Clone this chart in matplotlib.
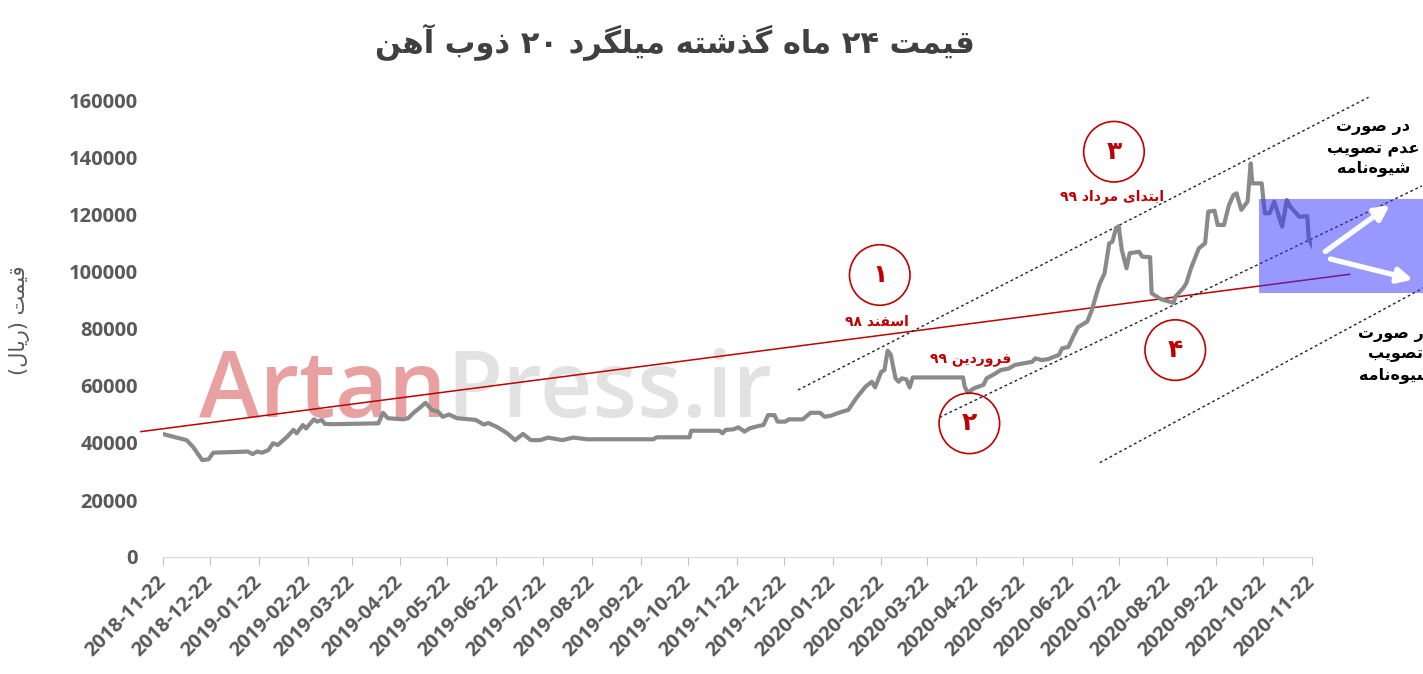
import re
import pandas as pd
import matplotlib
matplotlib.use('Agg')
import matplotlib.pyplot as plt
import matplotlib.dates as mdates
from matplotlib.patches import Rectangle

plt.rcParams['font.family'] = ['Open Sans', 'DejaVu Sans']

# --- data (days after 2018-11-22, price in rial) ---
start = pd.Timestamp('2018-11-22')
day_offset = [1, 13, 15, 19, 25, 29, 32, 54, 57, 60, 63, 67, 70, 73, 79, 83, 85, 89, 91, 96,
              98, 101, 103, 108, 137, 140, 143, 153, 156, 159, 163, 167, 171, 175, 178, 182, 187, 199, 204, 207,
              213, 219, 224, 229, 234, 240, 245, 254, 261, 270, 312, 314, 335, 336, 354, 356, 358, 363, 366, 370,
              373, 379, 382, 385, 389, 391, 396, 398, 407, 412, 418, 421, 425, 432, 436, 441, 447, 451, 453, 457,
              459, 461, 463, 466, 468, 470, 473, 475, 477, 509, 510, 512, 516, 522, 524, 529, 533, 538, 542, 553,
              555, 559, 563, 567, 570, 572, 576, 579, 582, 588, 591, 594, 596, 599, 602, 604, 606, 608, 610, 613,
              615, 621, 623, 628, 629, 635, 643, 644, 649, 651, 654, 659, 663, 665, 669, 671, 675, 678, 681, 683,
              686, 690, 692, 693, 699, 701, 704, 707, 710, 712, 715, 717, 720, 723, 728, 729, 731, 733]
price = [43000, 41300, 41000, 38700, 34000, 34300, 36600, 37000, 36100, 37000, 36600, 37500, 39900, 39300, 42200, 44600, 43400, 46300, 45100, 48300,
         47500, 48100, 46700, 46600, 46900, 50600, 48700, 48300, 48700, 50400, 52200, 54100, 51600, 51000, 49200, 50000, 48700, 48100, 46500, 47000,
         45500, 43400, 41000, 43200, 41000, 41000, 41900, 41000, 41900, 41300, 41300, 42000, 42000, 44300, 44300, 43400, 44600, 44800, 45500, 44000,
         45100, 46000, 46300, 49800, 49800, 47500, 47500, 48300, 48300, 50600, 50600, 49200, 49600, 51000, 51600, 55700, 59800, 61500, 59500, 65000,
         65600, 72400, 71000, 62700, 61500, 62700, 62300, 59500, 63000, 63000, 59800, 57700, 59200, 60400, 62700, 64200, 65600, 66100, 67400, 68500,
         69700, 69100, 69400, 70300, 70900, 73200, 73700, 77300, 80600, 82600, 86700, 92500, 96000, 99500, 110100, 110600, 114700, 116100, 107700, 101300,
         106600, 107100, 105400, 105200, 92500, 90400, 89200, 91300, 94300, 96000, 101300, 108300, 110100, 121200, 121500, 116500, 116500, 123200, 127000, 127600,
         121800, 124700, 138100, 131100, 131100, 120600, 120600, 124700, 119400, 115900, 125300, 123000, 121200, 119400, 119600, 111200, 109500, 107100]

# red trend line and dotted channel lines (endpoints, days / rial)
trend_days = [-14, 755]
trend_vals = [44000, 99200]
channel_days = [[404, 767], [494, 801], [596, 803]]
channel_vals = [[58600, 161300], [49000, 130200], [33100, 94800]]

# blue scenario box and arrows
box_days = [697, 812]
box_vals = [92500, 125500]
arrow_up = [(738, 106600), (782, 124100)]
arrow_down = [(741, 104800), (797, 97100)]

# numbered circles and their labels
circle_txt = ['۱', '۲', '۳', '۴']
circle_days = [456, 513, 605, 644]
circle_vals = [98950, 46900, 142200, 72600]
note_txt = ['اسفند ۹۸', 'فروردین ۹۹', 'ابتدای مرداد ۹۹']
note_days = [454, 514, 604]
note_vals = [82500, 69500, 126300]

title = 'قیمت ۲۴ ماه گذشته میلگرد ۲۰ ذوب آهن'
ylabel = 'قیمت (ریال)'
scen_no = 'در صورت\nعدم تصویب\nشیوه\u200cنامه'
scen_yes = 'در صورت\nتصویب\nشیوه\u200cنامه'

# --- minimal Persian shaping (matplotlib has no bidi / joining) ---
FORMS = {
    'ا': ('\uFE8D', '\uFE8E', None, None),
    'آ': ('\uFE81', '\uFE82', None, None),
    'ب': ('\uFE8F', '\uFE90', '\uFE91', '\uFE92'),
    'ت': ('\uFE95', '\uFE96', '\uFE97', '\uFE98'),
    'د': ('\uFEA9', '\uFEAA', None, None),
    'ذ': ('\uFEAB', '\uFEAC', None, None),
    'ر': ('\uFEAD', '\uFEAE', None, None),
    'س': ('\uFEB1', '\uFEB2', '\uFEB3', '\uFEB4'),
    'ش': ('\uFEB5', '\uFEB6', '\uFEB7', '\uFEB8'),
    'ص': ('\uFEB9', '\uFEBA', '\uFEBB', '\uFEBC'),
    'ع': ('\uFEC9', '\uFECA', '\uFECB', '\uFECC'),
    'ف': ('\uFED1', '\uFED2', '\uFED3', '\uFED4'),
    'ق': ('\uFED5', '\uFED6', '\uFED7', '\uFED8'),
    'ل': ('\uFEDD', '\uFEDE', '\uFEDF', '\uFEE0'),
    'م': ('\uFEE1', '\uFEE2', '\uFEE3', '\uFEE4'),
    'ن': ('\uFEE5', '\uFEE6', '\uFEE7', '\uFEE8'),
    'ه': ('\uFEE9', '\uFEEA', '\uFEEB', '\uFEEC'),
    'و': ('\uFEED', '\uFEEE', None, None),
    'ی': ('\uFBFC', '\uFBFD', '\uFBFE', '\uFBFF'),
    'گ': ('\uFB92', '\uFB93', '\uFB94', '\uFB95'),
}


def shape_line(s):
    out = []
    for i, ch in enumerate(s):
        if ch not in FORMS:
            if ch != '\u200c':
                out.append(ch)
            continue
        iso, fin, ini, med = FORMS[ch]
        prev = s[i - 1] if i > 0 else ''
        nxt = s[i + 1] if i + 1 < len(s) else ''
        jp = prev in FORMS and FORMS[prev][2] is not None
        jn = ini is not None and nxt in FORMS
        if jp and jn:
            out.append(med)
        elif jp:
            out.append(fin)
        elif jn:
            out.append(ini)
        else:
            out.append(iso)
    parts = re.findall(r'[0-9\u06F0-\u06F9]+|[^0-9\u06F0-\u06F9]', ''.join(out))
    return ''.join(parts[::-1]).translate(str.maketrans('()', ')('))


def fa(s):
    return '\n'.join(shape_line(l) for l in s.split('\n'))


def day(d):
    return start + pd.Timedelta(days=d)


FA = ['DejaVu Sans']
RED = '#c00000'
GREY = '#595959'

fig = plt.figure(figsize=(14.23, 6.74), dpi=100)
ax = fig.add_axes([163 / 1423, 117 / 674, 1149 / 1423, 456 / 674])

dates = [day(d) for d in day_offset]

# watermark
wm = ax.text(0.031, 0.307, 'Artan', transform=ax.transAxes, fontsize=66, fontweight='semibold',
             color='#e8a0a0', va='baseline', ha='left', zorder=0)
ax.annotate('Press.ir', xy=(1, 0), xycoords=wm, fontsize=66, fontweight='semibold',
            color='#e2e2e2', va='bottom', ha='left', zorder=0)

ax.plot(dates, price, color='#8a8a8a', lw=3, zorder=3)
ax.plot([day(d) for d in trend_days], trend_vals, color=RED, lw=1.1, zorder=2, clip_on=False)
for cd, cv in zip(channel_days, channel_vals):
    ax.plot([day(d) for d in cd], cv, color='#222222', lw=1, ls=(0, (2, 2)), zorder=2, clip_on=False)

x0 = mdates.date2num(day(box_days[0]))
x1 = mdates.date2num(day(box_days[1]))
ax.add_patch(Rectangle((x0, box_vals[0]), x1 - x0, box_vals[1] - box_vals[0],
                       facecolor='#3333ff', alpha=0.5, edgecolor='none', zorder=4, clip_on=False))
for a in (arrow_up, arrow_down):
    ax.annotate('', xy=(day(a[1][0]), a[1][1]), xytext=(day(a[0][0]), a[0][1]),
                arrowprops=dict(arrowstyle='-|>', color='white', lw=3.8, mutation_scale=22),
                annotation_clip=False, zorder=5)

ax.scatter([day(d) for d in circle_days], circle_vals, s=1900, facecolors='none',
           edgecolors=RED, linewidths=1.2, zorder=6, clip_on=False)
for t, d, v in zip(circle_txt, circle_days, circle_vals):
    ax.text(day(d), v, t, family=FA, fontsize=18, fontweight='bold', color=RED,
            ha='center', va='center', zorder=7)
for t, d, v in zip(note_txt, note_days, note_vals):
    ax.text(day(d), v, fa(t), family=FA, fontsize=10, fontweight='bold', color=RED,
            ha='center', va='center', zorder=7)

ax.text(day(770), 143500, fa(scen_no), family=FA, fontsize=11.5, fontweight='bold', color='black',
        ha='center', va='center', multialignment='center', linespacing=1.4, zorder=7)
ax.text(day(784), 70900, fa(scen_yes), family=FA, fontsize=11.5, fontweight='bold', color='black',
        ha='center', va='center', multialignment='center', linespacing=1.4, zorder=7)

# axes styling
ax.set_xlim(day(0), day(731))
ax.set_ylim(0, 160000)
ticks = pd.date_range('2018-11-22', '2020-11-22', freq=pd.DateOffset(months=1))
ax.set_xticks(ticks)
ax.set_xticklabels([t.strftime('%Y-%m-%d') for t in ticks], rotation=45, ha='right',
                   va='center', rotation_mode='anchor')
ax.set_yticks(range(0, 160001, 20000))
for s in ('top', 'right', 'left'):
    ax.spines[s].set_visible(False)
ax.spines['bottom'].set_color('#d9d9d9')
ax.tick_params(axis='x', length=6, color='#bfbfbf', pad=10, labelsize=14.5, labelcolor=GREY)
ax.tick_params(axis='y', length=0, pad=18, labelsize=14.5, labelcolor=GREY)
for lab in ax.get_xticklabels() + ax.get_yticklabels():
    lab.set_fontweight('bold')

fig.text(675 / 1423, 1 - 42 / 674, fa(title), family=FA, fontsize=22, fontweight='bold',
         color='#404040', ha='center', va='center')
fig.text(20 / 1423, 1 - 320 / 674, fa(ylabel), family=FA, fontsize=15, color=GREY,
         rotation=90, ha='center', va='center')

fig.savefig('out.png', dpi=100)
